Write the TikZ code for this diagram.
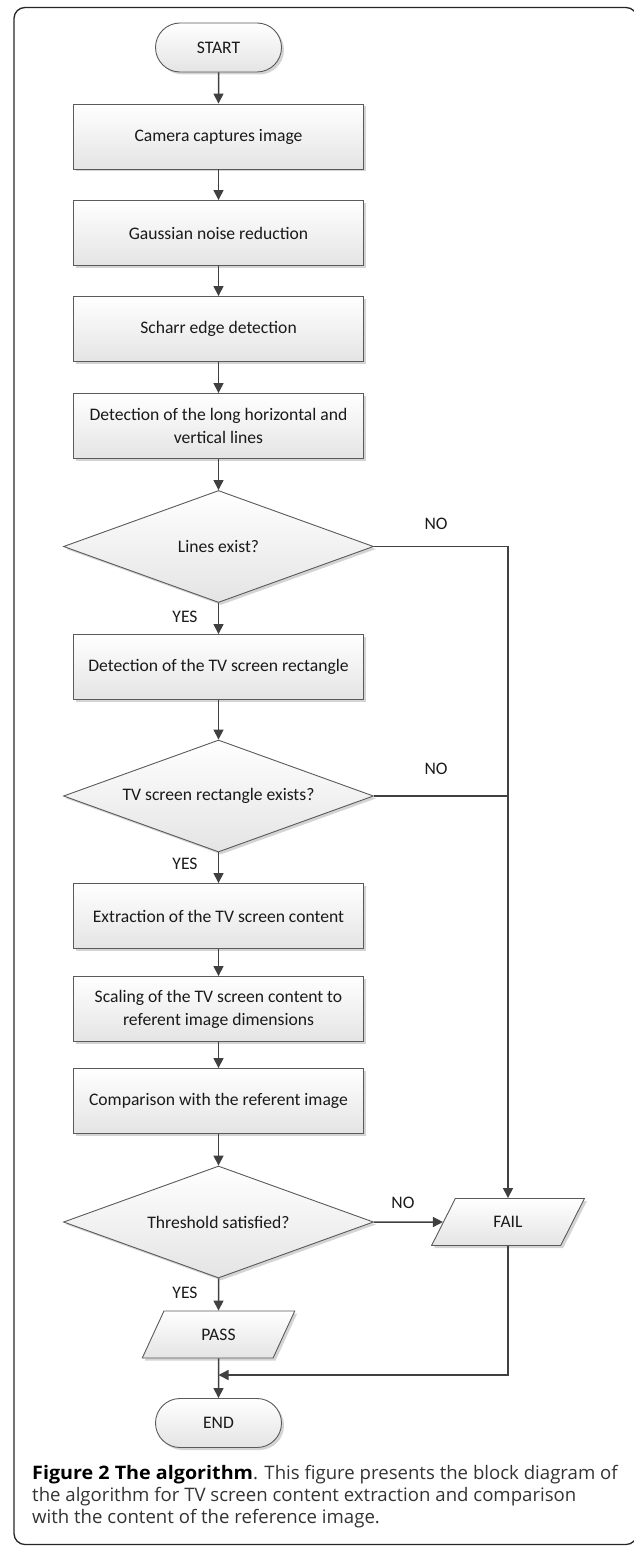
\documentclass[tikz,border=0pt]{standalone}
\usepackage{graphicx}
\usepackage{fontspec}
\setmainfont{Carlito}
\newfontfamily\capfont{Open Sans}
\usetikzlibrary{shapes.geometric,shapes.misc,arrows.meta,shadows,calc}
\definecolor{edgeclr}{HTML}{5A5A5A}
\definecolor{lineclr}{HTML}{404040}
\definecolor{shadeclr}{HTML}{E4E4E4}
\definecolor{shadowclr}{HTML}{D4D4D4}
\definecolor{txtclr}{HTML}{1A1A1A}
\definecolor{capclr}{HTML}{333333}
\begin{document}
\begin{tikzpicture}[x=1pt,y=-1pt,
  base/.style={draw=edgeclr, line width=0.9pt, top color=white, bottom color=shadeclr,
    text=txtclr, font=\fontsize{17.6}{23}\selectfont,
    drop shadow={shadow xshift=2.5pt, shadow yshift=-2.5pt, fill=shadowclr, opacity=1}},
  procbox/.style={base, rectangle, minimum width=290pt, minimum height=65pt, align=center, inner sep=2pt},
  termbox/.style={base, rounded rectangle, minimum width=130pt, minimum height=49pt, inner sep=2pt},
  decbox/.style={base, diamond, minimum width=310pt, minimum height=112pt, inner sep=0pt, aspect=2.77},
  iobox/.style={base, trapezium, trapezium left angle=64, trapezium right angle=116,
    trapezium stretches=true, minimum width=153pt, minimum height=47pt, inner sep=2pt},
  arrowline/.style={draw=lineclr, line width=1.5pt, line join=miter, -{Triangle[length=10pt,width=10pt]}},
  plainline/.style={draw=lineclr, line width=1.5pt},
  lbl/.style={text=txtclr, font=\fontsize{17.6}{21}\selectfont, inner sep=0pt},
  framestyle/.style={draw=black!85, line width=1.3pt, rounded corners=11pt},
  capline/.style={text=capclr, font=\capfont\fontsize{18.6}{22}\selectfont, inner sep=0pt, anchor=base west}
]
\useasboundingbox (0,0) rectangle (633,1546);
\draw[framestyle] (14,7.5) rectangle (637,1544.5);

\node[termbox] (start) at (218.5,47.5) {START};
\node[procbox] (cam) at (218.5,136.5) {Camera captures image};
\node[procbox] (gauss) at (218.5,233) {Gaussian noise reduction};
\node[procbox] (scharr) at (218.5,329) {Scharr edge detection};
\node[procbox] (longl) at (218.5,426) {Detection of the long horizontal and\\vertical lines};
\node[decbox] (lex) at (218.5,546.5) {Lines exist?};
\node[procbox] (tvr) at (218.5,667) {Detection of the TV screen rectangle};
\node[decbox] (tvex) at (218.5,796) {TV screen rectangle exists?};
\node[procbox] (extr) at (218.5,916) {Extraction of the TV screen content};
\node[procbox] (scal) at (218.5,1009) {Scaling of the TV screen content to\\referent image dimensions};
\node[procbox] (comp) at (218.5,1101) {Comparison with the referent image};
\node[decbox] (thr) at (218.5,1222) {Threshold satisfied?};
\node[iobox] (pass) at (218.5,1334.5) {PASS};
\node[iobox] (fail) at (508,1222) {FAIL};
\node[termbox] (finish) at (218.5,1423) {END};
\coordinate (merge) at (218.5,1375);

\draw[arrowline] (start) -- (cam);
\draw[arrowline] (cam) -- (gauss);
\draw[arrowline] (gauss) -- (scharr);
\draw[arrowline] (scharr) -- (longl);
\draw[arrowline] (longl) -- (lex);
\draw[arrowline] (lex) -- (tvr);
\draw[arrowline] (tvr) -- (tvex);
\draw[arrowline] (tvex) -- (extr);
\draw[arrowline] (extr) -- (scal);
\draw[arrowline] (scal) -- (comp);
\draw[arrowline] (comp) -- (thr);
\draw[arrowline] (thr) -- (pass);
\draw[arrowline] (pass) -- (finish);
\draw[arrowline] (lex.east) -- (lex.east -| fail.north) -- (fail.north);
\draw[plainline] (tvex.east) -- (tvex.east -| fail.north);
\draw[arrowline] (thr.east) -- (fail.west);
\draw[arrowline] (fail.south) |- (merge);

\node[lbl] (yes1) at (185,617) {YES};
\node[lbl] (yes2) at (185,864) {YES};
\node[lbl] (yes3) at (185,1293) {YES};
\node[lbl] (no1) at (436,524) {NO};
\node[lbl] (no2) at (436,769) {NO};
\node[lbl] (no3) at (403,1203) {NO};

\node[capline] (cap1) at (32,1479)
  {\textcolor{black}{\scalebox{1.06}[1]{\textbf{Figure 2 The algorithm}}}. This figure presents the block diagram of};
\node[capline] (cap2) at (32,1501)
  {the algorithm for TV screen content extraction and comparison};
\node[capline] (cap3) at (32,1523)
  {with the content of the reference image.};
\end{tikzpicture}
\end{document}
